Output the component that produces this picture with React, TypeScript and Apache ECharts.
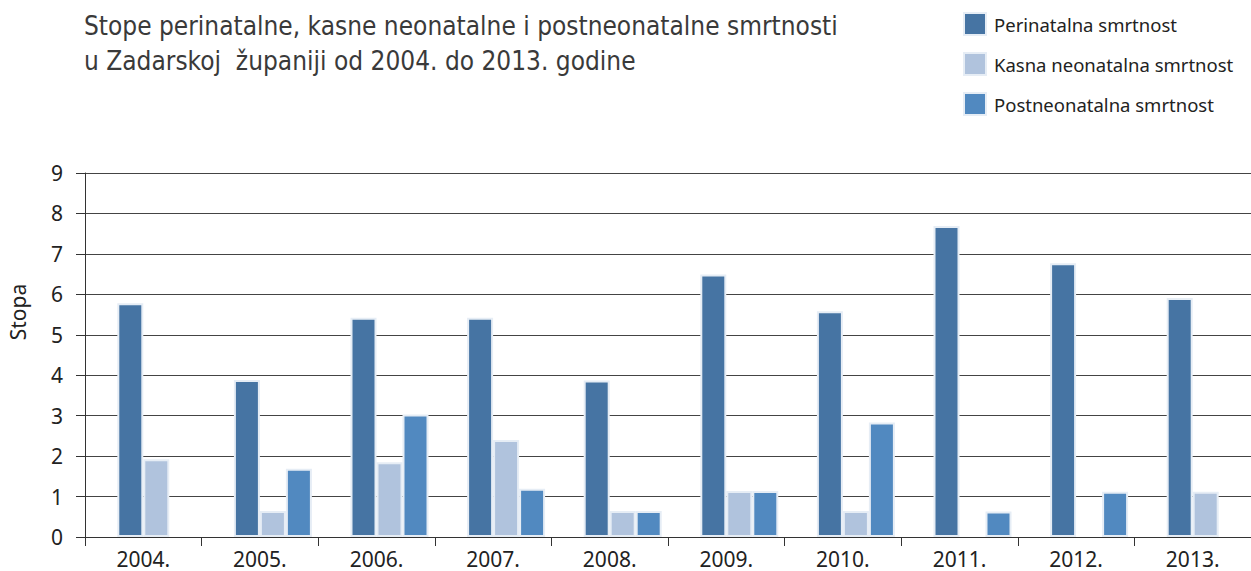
import React, { useEffect, useRef } from "react";
import * as echarts from "echarts";

const years = ["2004.", "2005.", "2006.", "2007.", "2008.", "2009.", "2010.", "2011.", "2012.", "2013."];
const perinatalna = [5.78, 3.88, 5.42, 5.42, 3.87, 6.49, 5.58, 7.69, 6.77, 5.91];
const kasnaNeonatalna = [1.92, 0.64, 1.85, 2.4, 0.64, 1.14, 0.64, null, null, 1.12];
const postneonatalna = [null, 1.69, 3.03, 1.19, 0.64, 1.14, 2.83, 0.63, 1.12, null];
const seriesNames = ["Perinatalna smrtnost", "Kasna neonatalna smrtnost", "Postneonatalna smrtnost"];
const yTicks = [0, 9, 1];
const titleLines = [
  "Stope perinatalne, kasne neonatalne i postneonatalne smrtnosti",
  "u Zadarskoj  županiji od 2004. do 2013. godine",
];
const yName = "Stopa";

const colors = ["#4674a3", "#b0c3dd", "#5189c0"];
const border = "#e6edf5";
const font = "'Noto Sans', sans-serif";

export default function App() {
  const ref = useRef<HTMLDivElement>(null);
  useEffect(() => {
    if (!ref.current) return;
    const chart = echarts.init(ref.current, null, { renderer: "svg" });
    const mk = (name: string, data: (number | null)[], color: string) => ({
      name,
      type: "bar",
      data,
      barWidth: 26,
      barGap: "0%",
      itemStyle: { color, borderColor: border, borderWidth: 2 },
    });
    chart.setOption({
      animation: false,
      backgroundColor: "#ffffff",
      title: {
        text: titleLines.join("\n"),
        left: 84,
        top: 8,
        padding: 0,
        textStyle: {
          fontFamily: "'DejaVu Sans Condensed', sans-serif",
          fontSize: 26,
          fontWeight: "normal",
          color: "#3a3a3a",
          lineHeight: 35,
        },
      },
      legend: {
        data: seriesNames,
        orient: "vertical",
        left: 963,
        top: 12,
        padding: 0,
        itemWidth: 22,
        itemHeight: 22,
        itemGap: 16,
        icon: "rect",
        textStyle: {
          fontFamily: font,
          fontSize: 18.5,
          lineHeight: 22,
          color: "#222222",
          padding: [0, 0, 0, 3],
        },
      },
      graphic: [
        {
          type: "text",
          x: 18,
          y: 312,
          rotation: Math.PI / 2,
          style: {
            text: yName,
            fontFamily: font,
            fontSize: 21,
            fill: "#222222",
            align: "center",
            verticalAlign: "middle",
          },
        },
      ],
      grid: { left: 85, right: 0, top: 173, bottom: 34 },
      xAxis: {
        type: "category",
        data: years,
        axisLine: { lineStyle: { color: "#333333", width: 1 } },
        axisTick: { show: true, length: 9, lineStyle: { color: "#333333" } },
        axisLabel: { fontFamily: font, fontSize: 21, color: "#222222", margin: 11 },
      },
      yAxis: {
        type: "value",
        min: yTicks[0],
        max: yTicks[1],
        interval: yTicks[2],
        axisLine: { show: true, lineStyle: { color: "#333333", width: 1 } },
        axisTick: { show: true, length: 9, lineStyle: { color: "#333333" } },
        axisLabel: { fontFamily: font, fontSize: 21, color: "#222222", margin: 22 },
        splitLine: { lineStyle: { color: "#444444", width: 1 } },
      },
      series: [
        { name: "_spacer", type: "bar", data: years.map(() => null), barWidth: 26, barGap: "0%", silent: true },
        mk(seriesNames[0], perinatalna, colors[0]),
        mk(seriesNames[1], kasnaNeonatalna, colors[1]),
        mk(seriesNames[2], postneonatalna, colors[2]),
      ],
    });
    return () => chart.dispose();
  }, []);
  return (
    <div
      ref={ref}
      style={{ position: "fixed", left: 0, top: 0, width: 1251, height: 571, background: "#fff" }}
    />
  );
}
